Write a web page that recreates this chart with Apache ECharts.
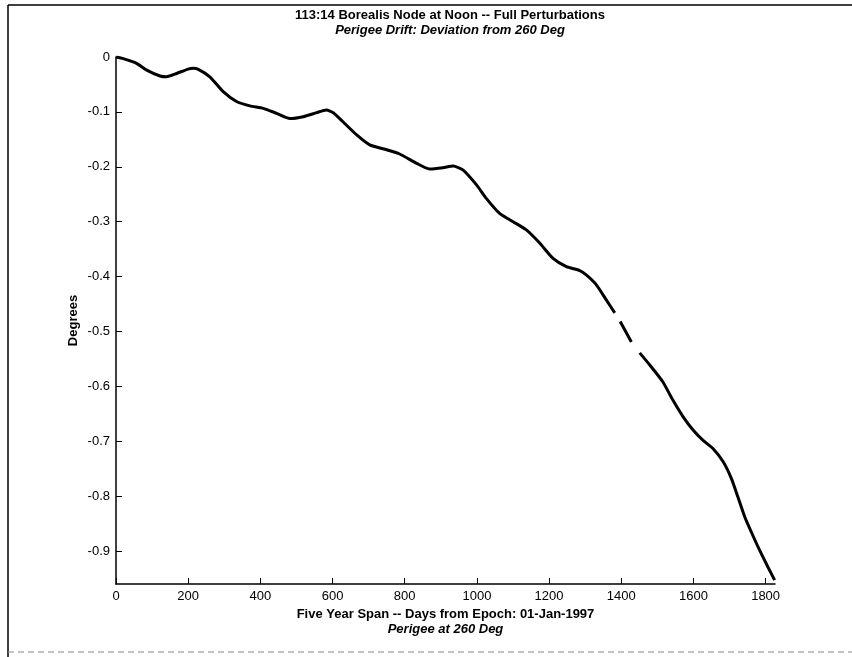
<!DOCTYPE html>
<html><head><meta charset="utf-8">
<script src="https://cdn.jsdelivr.net/npm/echarts@6/dist/echarts.min.js"></script>
<style>html,body{margin:0;padding:0;background:#fff}#c{width:852px;height:657px}</style>
</head><body><div id="c"></div>
<script>
const days = [0,20,57,85,122,140,168,200,214,228,260,297,334,371,408,445,482,519,556,583,602,629,667,703,750,786,833,869,906,934,962,999,1026,1063,1100,1137,1174,1211,1248,1285,1303,1331,1359,1382,1390,1397,1428,1440,1451,1479,1515,1543,1571,1599,1626,1654,1682,1705,1723,1742,1760,1783,1806,1825];
const deviation = [0,-0.003,-0.0115,-0.024,-0.0346,-0.036,-0.030,-0.022,-0.0207,-0.0225,-0.036,-0.063,-0.081,-0.089,-0.0935,-0.1026,-0.112,-0.1087,-0.1014,-0.0966,-0.1014,-0.118,-0.142,-0.160,-0.169,-0.1767,-0.1937,-0.204,-0.2017,-0.1986,-0.206,-0.233,-0.2575,-0.285,-0.300,-0.315,-0.339,-0.367,-0.382,-0.389,-0.397,-0.415,-0.443,-0.466,null,-0.482,-0.519,null,-0.539,-0.561,-0.5915,-0.625,-0.655,-0.6795,-0.698,-0.713,-0.737,-0.7676,-0.801,-0.8375,-0.8648,-0.898,-0.9286,-0.953];
const xTicks = [0,200,400,600,800,1000,1200,1400,1600,1800];
const yTicks = [0,-0.1,-0.2,-0.3,-0.4,-0.5,-0.6,-0.7,-0.8,-0.9];
const titleText = '113:14 Borealis Node at Noon -- Full Perturbations';
const subtitleText = 'Perigee Drift: Deviation from 260 Deg';
const xName = 'Five Year Span -- Days from Epoch: 01-Jan-1997';
const xSubName = 'Perigee at 260 Deg';
const yName = 'Degrees';

const FONT = '"Liberation Sans", Arial, sans-serif';
const chart = echarts.init(document.getElementById('c'), null, {renderer: 'canvas'});
chart.setOption({
  animation: false,
  backgroundColor: '#fff',
  title: {
    text: titleText, subtext: subtitleText, left: 445, textAlign: 'center', top: 4, itemGap: 2,
    textStyle: {fontFamily: FONT, fontSize: 13, fontWeight: 'bold', color: '#000'},
    subtextStyle: {fontFamily: FONT, fontSize: 13, fontWeight: 'bold', fontStyle: 'italic', color: '#000'}
  },
  grid: {left: 116, right: 77, top: 57, bottom: 73},
  xAxis: {
    type: 'value', min: 0, max: 1826,
    name: '{a|' + xName + '}\n{b|' + xSubName + '}',
    nameLocation: 'middle', nameGap: 22,
    nameTextStyle: {rich: {
      a: {fontFamily: FONT, fontSize: 13, fontWeight: 'bold', color: '#000', lineHeight: 15},
      b: {fontFamily: FONT, fontSize: 13, fontWeight: 'bold', fontStyle: 'italic', color: '#000', lineHeight: 15}
    }},
    axisLine: {onZero: false, lineStyle: {color: '#000', width: 1.5}},
    axisTick: {inside: true, length: 6, customValues: xTicks, lineStyle: {color: '#000'}},
    axisLabel: {customValues: xTicks, fontFamily: FONT, fontSize: 13, color: '#000', margin: 6,
      formatter: v => String(v)},
    splitLine: {show: false}
  },
  yAxis: {
    type: 'value', min: -0.96, max: 0,
    name: yName, nameLocation: 'middle', nameGap: 36, nameRotate: 90, nameMoveOverlap: false,
    nameTextStyle: {fontFamily: FONT, fontSize: 13, fontWeight: 'bold', color: '#000'},
    axisLine: {onZero: false, lineStyle: {color: '#000', width: 1.5}},
    axisTick: {inside: true, length: 6, customValues: yTicks, lineStyle: {color: '#000'}},
    axisLabel: {customValues: yTicks, fontFamily: FONT, fontSize: 13, color: '#000', margin: 6,
      formatter: v => (Math.round(v * 10) / 10).toString()},
    splitLine: {show: false}
  },
  graphic: [
    {type: 'line', shape: {x1: 8, y1: 5, x2: 852, y2: 5}, style: {stroke: '#000', lineWidth: 1.5}},
    {type: 'line', shape: {x1: 8, y1: 5, x2: 8, y2: 657}, style: {stroke: '#000', lineWidth: 1.5}},
    {type: 'line', shape: {x1: 8, y1: 652, x2: 852, y2: 652}, style: {stroke: '#888', lineWidth: 1, lineDash: [6, 4]}}
  ],
  series: [{
    type: 'line', data: days.map((d, i) => [d, deviation[i]]),
    showSymbol: false, connectNulls: false, smooth: 0.2,
    lineStyle: {color: '#000', width: 3}
  }]
});
</script></body></html>
